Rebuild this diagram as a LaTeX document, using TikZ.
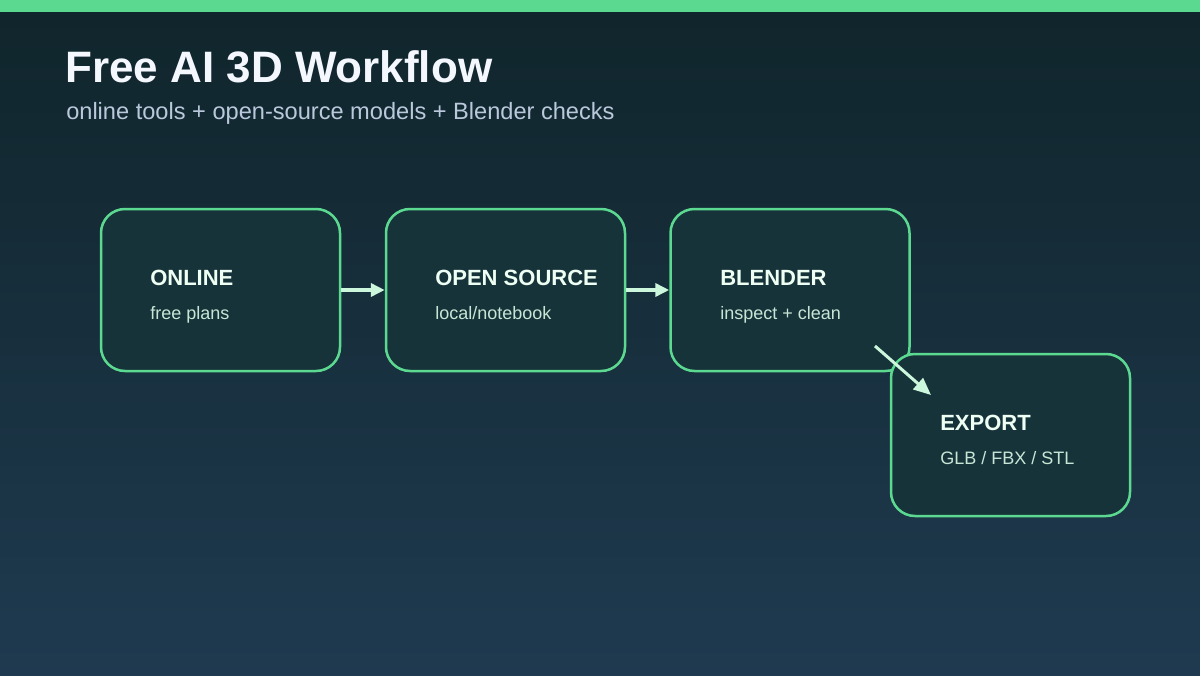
\documentclass[tikz,border=0pt]{standalone}
\usepackage{fontspec}
\setmainfont{Liberation Sans}
\usetikzlibrary{arrows.meta}
\definecolor{bgtop}{HTML}{10252B}
\definecolor{bgbot}{HTML}{1F3A50}
\definecolor{accent}{HTML}{5CD990}
\definecolor{boxfill}{HTML}{17333A}
\definecolor{titlecol}{HTML}{F5F7FF}
\definecolor{subcol}{HTML}{B9C9DB}
\definecolor{headcol}{HTML}{EEFFF4}
\definecolor{notecol}{HTML}{C8E6D6}
\definecolor{arrowcol}{HTML}{CDF7DD}
\tikzset{
  stepbox/.style={draw=accent, line width=1.875pt, fill=boxfill, rounded corners=18pt,
    minimum width=179.25pt, minimum height=121.5pt, inner sep=0pt},
  head/.style={anchor=base west, inner sep=0pt, text=headcol, font=\fontsize{16.5pt}{19pt}\selectfont\bfseries},
  note/.style={anchor=base west, inner sep=0pt, text=notecol, font=\fontsize{13.5pt}{16pt}\selectfont},
  flow/.style={draw=arrowcol, line width=3pt, -{Triangle[length=10.5pt,width=9.75pt]}},
  flowdiag/.style={draw=arrowcol, line width=2.25pt, -{Triangle[length=13pt,width=11pt]}}
}
\begin{document}
\begin{tikzpicture}[x=0.75pt,y=-0.75pt]
\useasboundingbox (0,0) rectangle (1200,675);
\shade[top color=bgtop, bottom color=bgbot] (0,0) rectangle (1200,675);
\fill[accent] (0,0) rectangle (1200,12);
\node[anchor=base west, inner sep=0pt, text=titlecol, font=\fontsize{33pt}{38pt}\selectfont\bfseries] (title) at (65,82) {Free AI 3D Workflow};
\node[anchor=base west, inner sep=0pt, text=subcol, font=\fontsize{17.7pt}{21pt}\selectfont] (subtitle) at (66,119) {online tools + open-source models + Blender checks};

\node[stepbox] (b1) at (220.5,290) {};
\node[stepbox] (b2) at (505.5,290) {};
\node[stepbox] (b3) at (790,290) {};
\node[stepbox] (b4) at (1010.5,435) {};

\node[head] (h1) at (150,285) {ONLINE};
\node[note] (n1) at (150,319) {free plans};
\node[head] (h2) at (435,285) {OPEN SOURCE};
\node[note] (n2) at (435,319) {local/notebook};
\node[head] (h3) at (720,285) {BLENDER};
\node[note] (n3) at (720,319) {inspect + clean};
\node[head] (h4) at (940,430) {EXPORT};
\node[note] (n4) at (940,464) {GLB / FBX / STL};

\coordinate (d1) at (875,346);
\coordinate (d2) at (931,395);
\draw[flow] (b1.east) -- (b2.west);
\draw[flow] (b2.east) -- (b3.west);
\draw[flowdiag] (d1) -- (d2);
\end{tikzpicture}
\end{document}
